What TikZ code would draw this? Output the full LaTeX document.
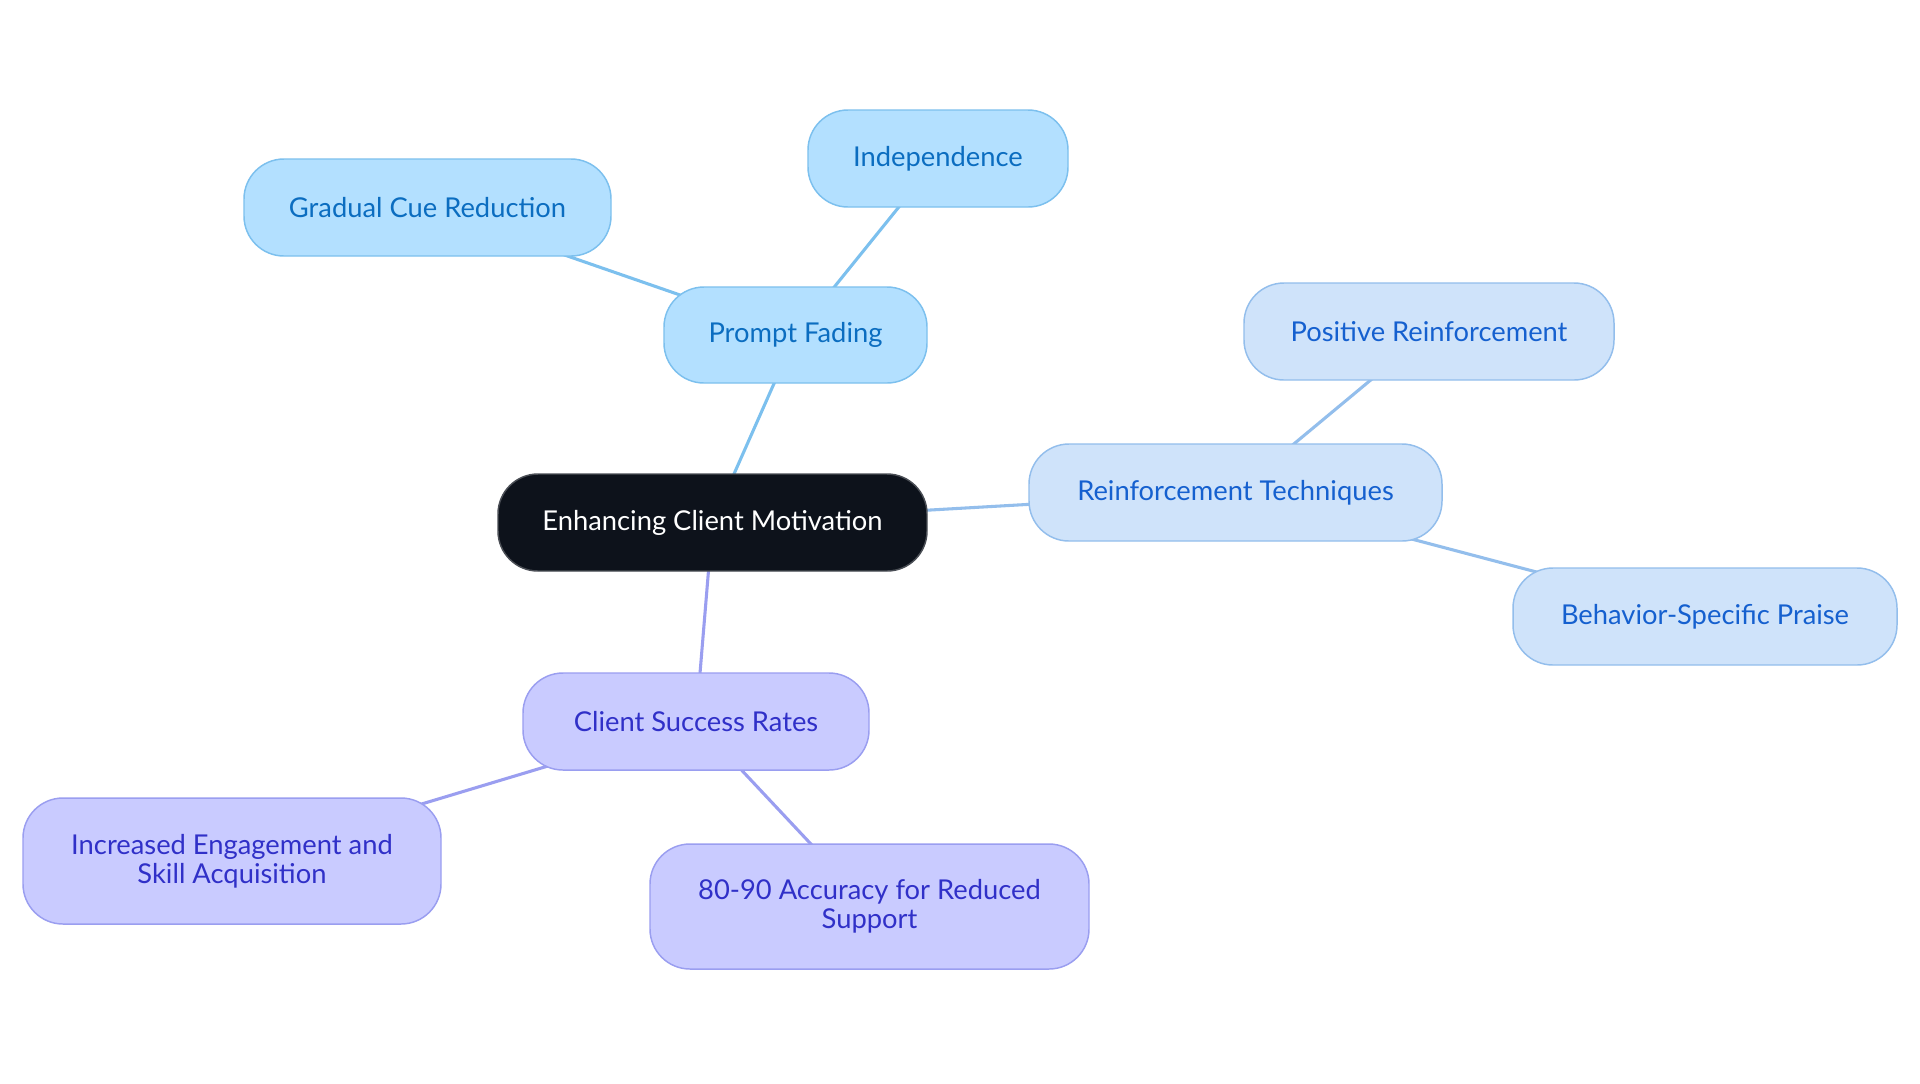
\documentclass[tikz,border=0pt]{standalone}
\usepackage{fontspec}
\setmainfont{Lato}
\usetikzlibrary{backgrounds}
\definecolor{ctrfill}{HTML}{0D121B}
\definecolor{ctrdraw}{HTML}{4A4E55}
\definecolor{pffill}{HTML}{B3E0FF}
\definecolor{pfdraw}{HTML}{7CC0EE}
\definecolor{pftext}{HTML}{0B6DC0}
\definecolor{rtfill}{HTML}{CFE3FA}
\definecolor{rtdraw}{HTML}{93BEEC}
\definecolor{rttext}{HTML}{1560CF}
\definecolor{csfill}{HTML}{C9CBFF}
\definecolor{csdraw}{HTML}{9A9EF0}
\definecolor{cstext}{HTML}{3030C8}
\tikzset{
  x=0.75pt, y=-0.75pt,
  box/.style={rectangle, rounded corners=30pt, line width=1.1pt, inner sep=0pt, align=center, font=\fontsize{20.5}{21.5}\selectfont},
  ctr/.style={box, fill=ctrfill, draw=ctrdraw, text=white},
  pf/.style={box, fill=pffill, draw=pfdraw, text=pftext},
  rt/.style={box, fill=rtfill, draw=rtdraw, text=rttext},
  cs/.style={box, fill=csfill, draw=csdraw, text=cstext},
  pfedge/.style={draw=pfdraw, line width=2.3pt},
  rtedge/.style={draw=rtdraw, line width=2.3pt},
  csedge/.style={draw=csdraw, line width=2.3pt},
}
\begin{document}
\begin{tikzpicture}
\useasboundingbox (0,0) rectangle (1920,1083);
\node[ctr, minimum width=429*0.75pt, minimum height=97*0.75pt] (c) at (712.5,522.5) {Enhancing Client Motivation};
\node[pf, minimum width=263*0.75pt, minimum height=96*0.75pt] (pf) at (795.5,335) {Prompt Fading};
\node[pf, minimum width=260*0.75pt, minimum height=97*0.75pt] (ind) at (938,158.5) {Independence};
\node[pf, minimum width=367*0.75pt, minimum height=97*0.75pt] (gcr) at (427.5,207.5) {Gradual Cue Reduction};
\node[rt, minimum width=413*0.75pt, minimum height=97*0.75pt] (rt) at (1235.5,492.5) {Reinforcement Techniques};
\node[rt, minimum width=370*0.75pt, minimum height=97*0.75pt] (pr) at (1429,331.5) {Positive Reinforcement};
\node[rt, minimum width=384*0.75pt, minimum height=97*0.75pt] (bsp) at (1705,616.5) {Behavior-Specific Praise};
\node[cs, minimum width=346*0.75pt, minimum height=97*0.75pt] (csr) at (696,721.5) {Client Success Rates};
\node[cs, minimum width=418*0.75pt, minimum height=126*0.75pt] (ie) at (232,861) {Increased Engagement and\\Skill Acquisition};
\node[cs, minimum width=439*0.75pt, minimum height=125*0.75pt] (acc) at (869.5,906.5) {80-90 Accuracy for Reduced\\Support};
\begin{scope}[on background layer]
\fill[white] (0,0) rectangle (1920,1083);
\draw[pfedge] (c.center) -- (pf.center);
\draw[pfedge] (pf.center) -- (ind.center);
\draw[pfedge] (pf.center) -- (gcr.center);
\draw[rtedge] (c.center) -- (rt.center);
\draw[rtedge] (rt.center) -- (pr.center);
\draw[rtedge] (rt.center) -- (bsp.center);
\draw[csedge] (c.center) -- (csr.center);
\draw[csedge] (csr.center) -- (ie.center);
\draw[csedge] (csr.center) -- (acc.center);
\end{scope}
\end{tikzpicture}
\end{document}
